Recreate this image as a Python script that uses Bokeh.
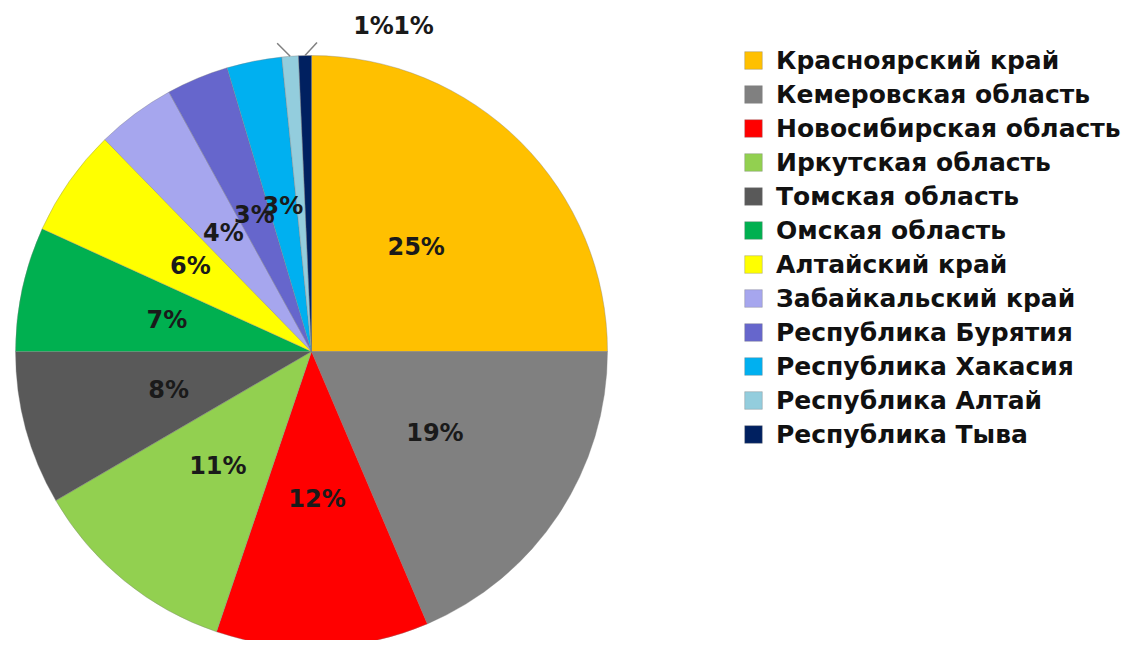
import numpy as np
from bokeh.plotting import figure
from bokeh.models import Range1d, Legend, LegendItem, ColumnDataSource
from bokeh.core.properties import value
from bokeh.embed import file_html
from bokeh.resources import INLINE

regions = ["Красноярский край", "Кемеровская область", "Новосибирская область",
           "Иркутская область", "Томская область", "Омская область",
           "Алтайский край", "Забайкальский край", "Республика Бурятия",
           "Республика Хакасия", "Республика Алтай", "Республика Тыва"]
shares = [25.0, 18.6, 11.6, 11.4, 8.4, 6.8, 5.9, 4.3, 3.4, 3.0, 0.9, 0.7]
colors = ["#FFC000", "#808080", "#FF0000", "#92D050", "#595959", "#00B050",
          "#FFFF00", "#A6A6EE", "#6666CC", "#00B0F0", "#93CDDD", "#002060"]
labels = [f"{round(s)}%" for s in shares]
outside = [False] * 10 + [True, True]

FONT = "DejaVu Sans"
W, H = 1126, 640
cx, cy, R = 311, 289, 296

p = figure(width=W, height=H, x_range=Range1d(0, W), y_range=Range1d(0, H),
           output_backend="svg", toolbar_location=None, min_border=0,
           x_axis_location=None, y_axis_location=None)
p.grid.visible = False
p.outline_line_color = None
p.background_fill_color = "white"

vals = np.array(shares, dtype=float)
frac = vals / vals.sum()
cum = np.concatenate([[0.0], np.cumsum(frac)])
start = np.pi / 2 - 2 * np.pi * cum[:-1]
end = np.pi / 2 - 2 * np.pi * cum[1:]
mid = (start + end) / 2

items = []
for i, name in enumerate(regions):
    r = p.wedge(x=cx, y=cy, radius=R, start_angle=start[i], end_angle=end[i],
                direction="clock", fill_color=colors[i],
                line_color="#7f7f7f", line_width=0.6, line_alpha=0.6)
    items.append(LegendItem(label=name, renderers=[r]))

# inside labels
ins = [i for i in range(len(regions)) if not outside[i]]
src = ColumnDataSource(dict(
    x=[cx + 0.5 * R * np.cos(mid[i]) for i in ins],
    y=[cy + 0.5 * R * np.sin(mid[i]) for i in ins],
    t=[labels[i] for i in ins]))
p.text(x="x", y="y", text="t", source=src, text_align="center",
       text_baseline="middle", text_font=value(FONT),
       text_font_style="bold", text_font_size="24px", text_color="#1a1a1a")

# outside labels with leader lines
outs = [i for i in range(len(regions)) if outside[i]]
lead_dx = [-13, 12]
lbl_dx = [62, 102]
for k, i in enumerate(outs):
    ex = cx + R * np.cos(mid[i])
    ey = cy + R * np.sin(mid[i])
    p.segment(x0=ex, y0=ey, x1=ex + lead_dx[k], y1=ey + 13,
              line_color="#808080", line_width=1.5)
    p.text(x=[cx + lbl_dx[k]], y=[cy + R + 30], text=[labels[i]],
           text_align="center", text_baseline="middle",
           text_font=value(FONT), text_font_style="bold",
           text_font_size="24px", text_color="#1a1a1a")

legend = Legend(items=items, location=(742, 189), orientation="vertical",
                padding=0, margin=0, spacing=0, label_height=34,
                glyph_width=22, glyph_height=22, label_standoff=12,
                label_text_font=FONT, label_text_font_style="bold",
                label_text_font_size="25px", label_text_color="#111111",
                border_line_alpha=0, background_fill_alpha=0)
p.add_layout(legend)

open("out.html", "w").write(file_html(p, INLINE))
